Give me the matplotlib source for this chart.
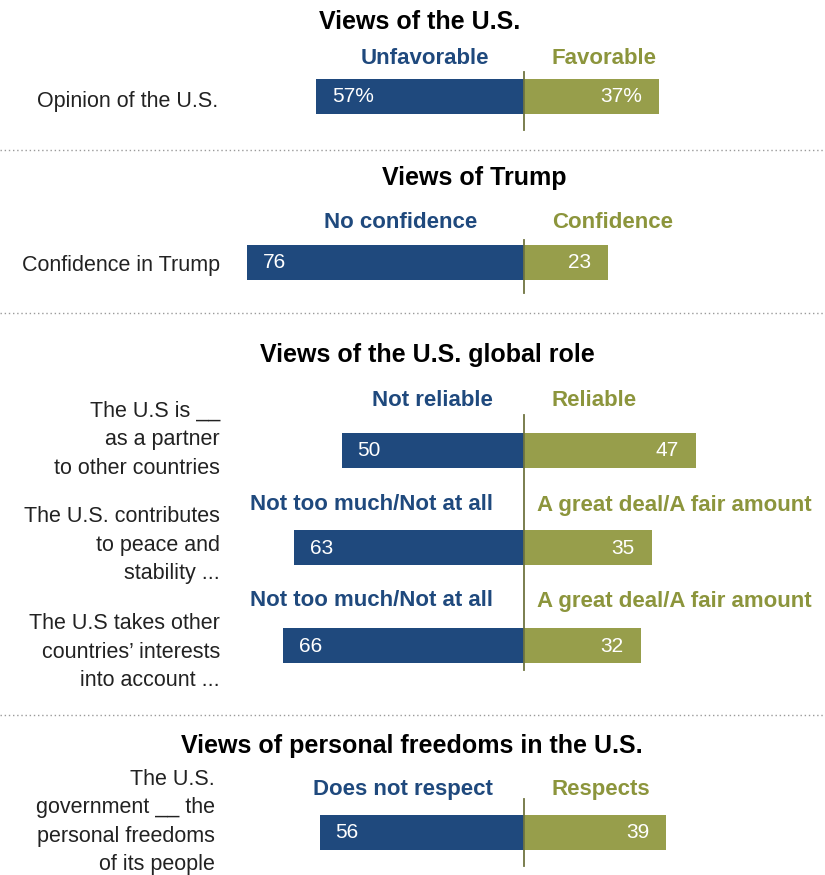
import matplotlib
matplotlib.use('Agg')
import matplotlib.pyplot as plt

# ---------------------------------------------------------------------------
# Data
# ---------------------------------------------------------------------------
section_titles = ['Views of the U.S.', 'Views of Trump',
                  'Views of the U.S. global role',
                  'Views of personal freedoms in the U.S.']

row_labels = ['Opinion of the U.S.',
              'Confidence in Trump',
              'The U.S is __\nas a partner\nto other countries',
              'The U.S. contributes\nto peace and\nstability ...',
              'The U.S takes other\ncountries\u2019 interests\ninto account ...',
              'The U.S.\ngovernment __ the\npersonal freedoms\nof its people']

neg_labels = ['Unfavorable', 'No confidence', 'Not reliable',
              'Not too much/Not at all', 'Not too much/Not at all',
              'Does not respect']
pos_labels = ['Favorable', 'Confidence', 'Reliable',
              'A great deal/A fair amount', 'A great deal/A fair amount',
              'Respects']

neg_values = [57, 76, 50, 63, 66, 56]
pos_values = [37, 23, 47, 35, 32, 39]
value_suffix = ['%', '', '', '', '', '']

# ---------------------------------------------------------------------------
# Layout (pixel rows, axes x in percentage units)
# ---------------------------------------------------------------------------
BLUE = '#1f497d'
OLIVE = '#979e4b'
OLIVE_TXT = '#8c953c'
LINE = '#6f7440'

W, H = 825, 875
X0 = 524           # pixel position of the zero line
PX = 3.65          # pixels per percentage point

bar_y = [96, 262, 450, 547, 645, 832]
bar_h = 35
head_y = [58, 223, 400, 505, 601, 789]
neg_head_right = [489, 477, 493, 493, 493, 493]
pos_head_left = [551, 552, 551, 537, 537, 551]
label_y = [102, 265, 440, 545, 652, 822]
label_right = [218, 220, 220, 220, 220, 215]
title_pos = [(420, 22), (474, 178), (427, 355), (412, 746)]
zero_lines = [(72, 130), (240, 293), (415, 670), (799, 866)]
separators = [150, 313, 715]

plt.rcParams['font.family'] = ['Liberation Sans', 'DejaVu Sans']


def px(x):
    return (x - X0) / PX


fig = plt.figure(figsize=(W / 100, H / 100), dpi=100)
ax = fig.add_axes([0, 0, 1, 1])
ax.set_xlim(px(0), px(W))
ax.set_ylim(H, 0)
ax.axis('off')

# bars
ax.barh(bar_y, [-v for v in neg_values], height=bar_h, color=BLUE,
        edgecolor='none')
ax.barh(bar_y, pos_values, height=bar_h, color=OLIVE, edgecolor='none')

for y, nv, pv, suf in zip(bar_y, neg_values, pos_values, value_suffix):
    ax.text(-nv + 16 / PX, y + 1, f'{nv}{suf}', ha='left', va='center',
            color='white', fontsize=15)
    ax.text(pv - 17 / PX, y + 1, f'{pv}{suf}', ha='right', va='center',
            color='white', fontsize=15)

# column headers
for y, nl, pl, xr, xl in zip(head_y, neg_labels, pos_labels,
                             neg_head_right, pos_head_left):
    ax.text(px(xr), y, nl, ha='right', va='center', color=BLUE,
            fontsize=16, fontweight='bold')
    ax.text(px(xl), y, pl, ha='left', va='center', color=OLIVE_TXT,
            fontsize=16, fontweight='bold')

# row labels
for y, lab, xr in zip(label_y, row_labels, label_right):
    ax.text(px(xr), y, lab, ha='right', va='center', color='#222222',
            fontsize=15.5, linespacing=1.46)

# section titles
for (x, y), t in zip(title_pos, section_titles):
    ax.text(px(x), y, t, ha='center', va='center', color='black',
            fontsize=18, fontweight='bold')

# zero lines
for y0, y1 in zero_lines:
    ax.plot([0, 0], [y0, y1], color=LINE, lw=1.3)

# dotted separators
for y in separators:
    ax.plot([px(0), px(W)], [y, y], color='#9a9a9a', lw=1,
            linestyle=(0, (1, 2)))

fig.savefig('out.png', dpi=100)
